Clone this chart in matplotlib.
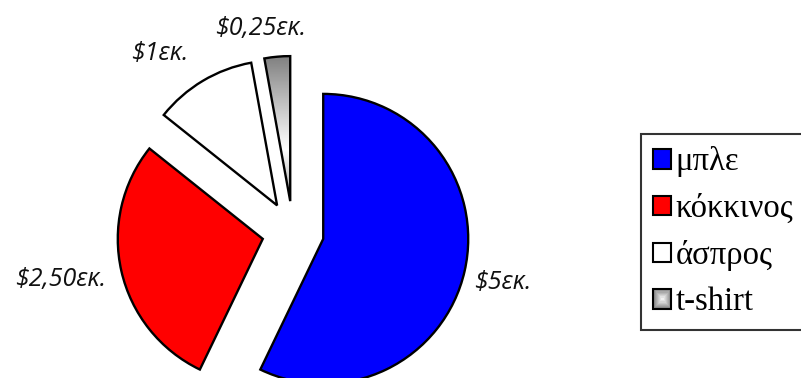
import numpy as np
import matplotlib
matplotlib.use("Agg")
import matplotlib.pyplot as plt
from matplotlib.patches import Rectangle
from matplotlib.legend_handler import HandlerPatch

# =========================
# DATA
# =========================
categories = ["μπλε", "κόκκινος", "άσπρος", "t-shirt"]
values = [5, 2.5, 1, 0.25]
value_labels = ["\\$5εκ.", "\\$2,50εκ.", "\\$1εκ.", "\\$0,25εκ."]
colors = ["#0000ff", "#ff0000", "#ffffff", "#a0a0a0"]

# label offsets (pixels) from the outer middle of each slice
label_offsets = [(38, -11), (-61, -8), (-43, 27), (-17, 28)]

W, H = 801, 378
fig = plt.figure(figsize=(W / 100, H / 100), dpi=100)
ax = fig.add_axes([0, 0, 1, 1])

# axes runs in pixel units, so radius / explode are in pixels too
center = (293, 146)
radius = 145
explode = [31] * len(values)

wedges, _ = ax.pie(
    values,
    colors=colors,
    explode=explode,
    startangle=90,
    counterclock=False,
    center=center,
    radius=radius,
    wedgeprops=dict(edgecolor="black", linewidth=1.7, joinstyle="miter"),
)
ax.set_xlim(0, W)
ax.set_ylim(0, H)
ax.set_aspect("equal")
ax.axis("off")

# gradient fill for the small grey slice
gw = wedges[3]
bb = gw.get_path().get_extents(gw.get_patch_transform())
yy = np.linspace(0, 1, 200)
shade = np.interp(yy, [0, 0.35, 0.75, 1], [0.62, 1.0, 0.7, 0.5])
img = np.tile(shade[:, None], (1, 20))
im = ax.imshow(img, cmap="gray", vmin=0, vmax=1, origin="lower",
               extent=[bb.x0, bb.x1, bb.y0, bb.y1], zorder=gw.get_zorder() - 0.01,
               interpolation="bilinear", aspect="auto")
im.set_clip_path(gw)
gw.set_facecolor("none")
ax.set_xlim(0, W)
ax.set_ylim(0, H)

# value labels just outside each slice
for w, txt, off in zip(wedges, value_labels, label_offsets):
    mid = np.deg2rad((w.theta1 + w.theta2) / 2)
    cx, cy = w.center
    ax.annotate(
        txt,
        xy=(cx + w.r * np.cos(mid), cy + w.r * np.sin(mid)),
        xytext=off,
        textcoords="offset pixels",
        ha="center",
        va="center",
        fontsize=18,
        fontstyle="italic",
        family=["Open Sans", "DejaVu Sans"],
        color="#111111",
    )


# legend key for the grey slice: nested squares give a soft radial look
class HandlerShaded(HandlerPatch):
    def create_artists(self, legend, orig_handle, xdescent, ydescent,
                       width, height, fontsize, trans):
        arts = []
        n = 8
        for i in range(n):
            f = i / n
            g = 0.55 + 0.45 * f
            arts.append(Rectangle(
                (-xdescent + width * f / 2, -ydescent + height * f / 2),
                width * (1 - f), height * (1 - f),
                facecolor=(g, g, g), edgecolor="none", transform=trans))
        arts.append(Rectangle((-xdescent, -ydescent), width, height,
                              facecolor="none", edgecolor="black",
                              linewidth=1.5, transform=trans))
        return arts


handles = []
for c in colors:
    handles.append(Rectangle((0, 0), 1, 1, facecolor=c, edgecolor="black", linewidth=1.5))

leg = fig.legend(
    handles,
    categories,
    handler_map={handles[3]: HandlerShaded()},
    loc="upper left",
    bbox_to_anchor=(641 / W, (H - 134) / H),
    frameon=True,
    fancybox=False,
    prop={"family": "Liberation Serif", "size": 23.5},
    handlelength=0.55,
    handleheight=0.55,
    handletextpad=0.12,
    labelspacing=0.49,
    borderpad=0.38,
    borderaxespad=0,
)
leg.get_frame().set_edgecolor("black")
leg.get_frame().set_linewidth(1.5)

fig.savefig("out.png", dpi=100)
